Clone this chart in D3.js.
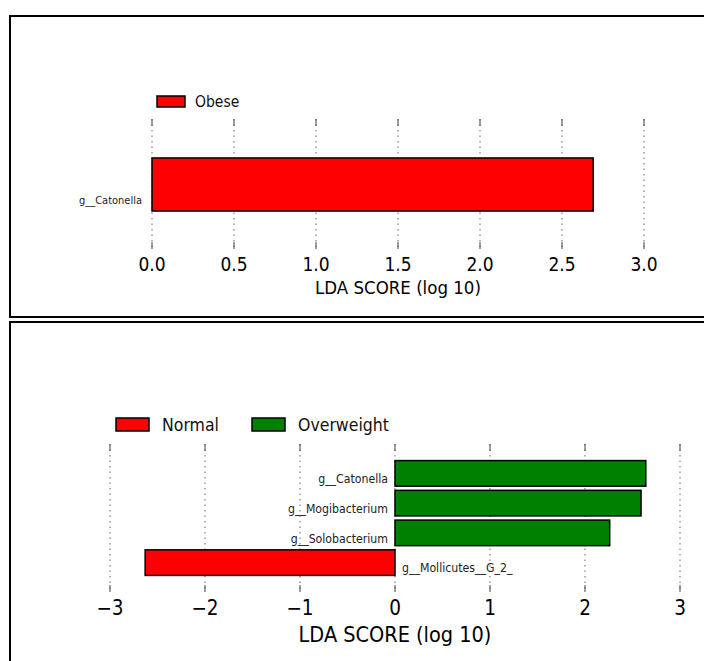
<!DOCTYPE html>
<html>
<head>
<meta charset="utf-8">
<script src="https://cdn.jsdelivr.net/npm/d3@7"></script>
<style>
  html, body { margin: 0; padding: 0; background: #fff; }
  svg { display: block; font-family: "DejaVu Sans Condensed", "DejaVu Sans", sans-serif; font-stretch: condensed; }
</style>
</head>
<body>
<svg id="chart" width="704" height="661"></svg>
<script>
// LEfSe LDA scores, panel 1: Obese
const obeseTaxa = ["g__Catonella"];
const obeseScores = [2.69];
const obeseTicks = [0, 0.5, 1.0, 1.5, 2.0, 2.5, 3.0];

// LEfSe LDA scores, panel 2: Normal vs Overweight (negative = Normal)
const nwTaxa = ["g__Catonella", "g__Mogibacterium", "g__Solobacterium", "g__Mollicutes__G_2_"];
const nwScores = [2.64, 2.59, 2.26, -2.63];
const nwTicks = [-3, -2, -1, 0, 1, 2, 3];

const groupColors = { Obese: "#ff0000", Normal: "#ff0000", Overweight: "#008000" };

const svg = d3.select("#chart");

function panel(cfg) {
  const g = svg.append("g");
  // frame
  g.append("rect")
    .attr("x", cfg.frame[0]).attr("y", cfg.frame[1])
    .attr("width", cfg.frame[2]).attr("height", cfg.frame[3])
    .attr("fill", "none").attr("stroke", "#000").attr("stroke-width", 2);

  const x = d3.scaleLinear().domain(cfg.domain).range(cfg.xRange);
  const y = d3.scaleBand().domain(cfg.taxa).range(cfg.yRange)
    .paddingInner(cfg.padInner).paddingOuter(cfg.padOuter);

  // dotted grid
  g.append("g").selectAll("line").data(cfg.ticks).join("line")
    .attr("x1", d => x(d)).attr("x2", d => x(d))
    .attr("y1", cfg.grid[0]).attr("y2", cfg.grid[1])
    .attr("stroke", "#666").attr("stroke-width", 1)
    .attr("stroke-dasharray", "1.5,4");

  // inward tick marks at top and bottom of the axes
  const tk = g.append("g");
  tk.selectAll("line.t").data(cfg.ticks).join("line").attr("class", "t")
    .attr("x1", d => x(d)).attr("x2", d => x(d))
    .attr("y1", cfg.grid[0]).attr("y2", cfg.grid[0] + 7)
    .attr("stroke", "#444").attr("stroke-width", 1);
  tk.selectAll("line.b").data(cfg.ticks).join("line").attr("class", "b")
    .attr("x1", d => x(d)).attr("x2", d => x(d))
    .attr("y1", cfg.grid[1] - 7).attr("y2", cfg.grid[1])
    .attr("stroke", "#444").attr("stroke-width", 1);

  // bars
  g.append("g").selectAll("rect").data(cfg.taxa).join("rect")
    .attr("x", (d, i) => x(Math.min(0, cfg.scores[i])))
    .attr("width", (d, i) => Math.abs(x(cfg.scores[i]) - x(0)))
    .attr("y", d => y(d))
    .attr("height", y.bandwidth())
    .attr("fill", (d, i) => groupColors[cfg.scores[i] < 0 ? cfg.groups[0] : cfg.groups[cfg.groups.length - 1]])
    .attr("stroke", "#000").attr("stroke-width", 1.5);

  // taxon labels
  g.append("g").selectAll("text").data(cfg.taxa).join("text")
    .attr("x", (d, i) => cfg.scores[i] < 0 ? x(0) + cfg.labelGap : x(0) - cfg.labelGap)
    .attr("y", d => y(d) + y.bandwidth() - cfg.labelLift)
    .attr("text-anchor", (d, i) => cfg.scores[i] < 0 ? "start" : "end")
    .attr("font-size", cfg.labelSize).attr("fill", "#222")
    .text(d => d);

  // tick labels
  g.append("g").selectAll("text").data(cfg.ticks).join("text")
    .attr("x", d => x(d)).attr("y", cfg.tickY)
    .attr("text-anchor", "middle")
    .attr("font-size", cfg.tickSize).attr("fill", "#000")
    .text(cfg.fmt);

  // axis title
  g.append("text")
    .attr("x", x(cfg.titleAt)).attr("y", cfg.titleY)
    .attr("text-anchor", "middle")
    .attr("font-size", cfg.titleSize).attr("fill", "#000")
    .text("LDA SCORE (log 10)");

  // legend
  const lg = g.append("g");
  cfg.groups.forEach((name, i) => {
    const lx = cfg.legend.x[i];
    lg.append("rect")
      .attr("x", lx).attr("y", cfg.legend.y)
      .attr("width", cfg.legend.w).attr("height", cfg.legend.h)
      .attr("fill", groupColors[name]).attr("stroke", "#000").attr("stroke-width", 1.5);
    lg.append("text")
      .attr("x", lx + cfg.legend.w + cfg.legend.gap)
      .attr("y", cfg.legend.y + cfg.legend.h / 2)
      .attr("dy", "0.36em")
      .attr("font-size", cfg.legend.size).attr("fill", "#111")
      .text(name);
  });
}

panel({
  frame: [10, 16, 700, 301],
  taxa: obeseTaxa, scores: obeseScores, ticks: obeseTicks, groups: ["Obese"],
  domain: [0, 3], xRange: [152, 644],
  yRange: [150, 219], padInner: 0, padOuter: 0.15,
  grid: [119, 249],
  labelGap: 10, labelLift: 7, labelSize: 11,
  tickY: 271, tickSize: 19, fmt: d3.format(".1f"),
  titleAt: 1.5, titleY: 294, titleSize: 18.5,
  legend: { x: [157], y: 96, w: 28, h: 11, gap: 10, size: 15.5 }
});

panel({
  frame: [10, 322, 700, 350],
  taxa: nwTaxa, scores: nwScores, ticks: nwTicks, groups: ["Normal", "Overweight"],
  domain: [-3, 3], xRange: [110, 680],
  yRange: [458.5, 577.5], padInner: 0.14, padOuter: 0.07,
  grid: [444, 592],
  labelGap: 7, labelLift: 3, labelSize: 12.2,
  tickY: 615, tickSize: 20.5, fmt: d => d < 0 ? "\u2212" + Math.abs(d) : String(d),
  titleAt: 0, titleY: 642, titleSize: 21.5,
  legend: { x: [116, 252], y: 418, w: 33, h: 13, gap: 13, size: 17.5 }
});
</script>
</body>
</html>
